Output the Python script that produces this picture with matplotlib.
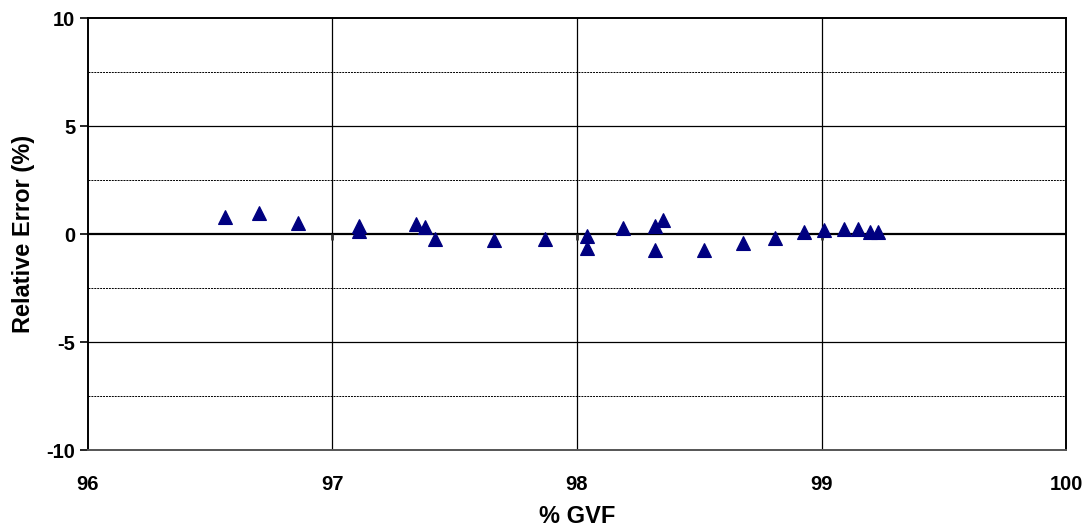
import matplotlib.pyplot as plt
import numpy as np

# %GVF vs relative error (%)
gvf = [96.56, 96.70, 96.86, 97.11, 97.11, 97.34, 97.38, 97.42, 97.66,
       97.87, 98.04, 98.04, 98.19, 98.32, 98.35, 98.32, 98.52, 98.68,
       98.81, 98.93, 99.01, 99.09, 99.15, 99.20, 99.23]
rel_err = [0.80, 0.99, 0.49, 0.38, 0.15, 0.46, 0.34, -0.23, -0.28,
           -0.25, -0.09, -0.63, 0.28, 0.37, 0.65, -0.74, -0.74, -0.40,
           -0.20, 0.09, 0.19, 0.23, 0.23, 0.09, 0.09]

xticks = [96, 97, 98, 99, 100]
yticks = [-10, -5, 0, 5, 10]
yminor = [-7.5, -2.5, 2.5, 7.5]

plt.rcParams['font.family'] = ['Liberation Sans', 'DejaVu Sans']
plt.rcParams['font.weight'] = 'bold'

fig = plt.figure(figsize=(10.86, 5.31), dpi=100)
ax = fig.add_axes([0.081, 0.1525, 0.9006, 0.8135])

ax.set_xlim(96, 100)
ax.set_ylim(-10, 10)

for y in yminor:
    ax.axhline(y, color='black', lw=0.7, ls=(0, (2, 1)), zorder=1)
for y in [-5, 5]:
    ax.axhline(y, color='black', lw=0.9, zorder=1)
for x in xticks[1:-1]:
    ax.axvline(x, color='black', lw=0.9, zorder=1)
ax.axhline(0, color='black', lw=1.6, zorder=2)
# little tick marks where the category axis crosses at zero
inner = xticks[1:-1]
ax.plot(inner, [0] * len(inner), ls='none', marker=3, ms=4, mew=2,
        color='#333333', zorder=2)

ax.plot(gvf, rel_err, ls='none', marker='^', ms=9.5, mfc='#000080',
        mec='#000080', mew=0.8, zorder=3)

ax.set_xticks(xticks)
ax.set_yticks(yticks)
ax.set_xticklabels([str(v) for v in xticks], fontsize=14.5, fontweight='bold')
ax.set_yticklabels([str(v) for v in yticks], fontsize=14.5, fontweight='bold')
ax.tick_params(axis='x', length=0, pad=18)
ax.tick_params(axis='y', length=6, width=1.2, direction='out', pad=3)

for s in ax.spines.values():
    s.set_linewidth(1.4)
    s.set_color('black')
ax.spines['bottom'].set_color('#555555')

ax.set_xlabel('% GVF', fontsize=17, fontweight='bold', labelpad=8)
ax.set_ylabel('Relative Error (%)', fontsize=17, fontweight='bold', labelpad=8)

fig.savefig('out.png', dpi=100)
